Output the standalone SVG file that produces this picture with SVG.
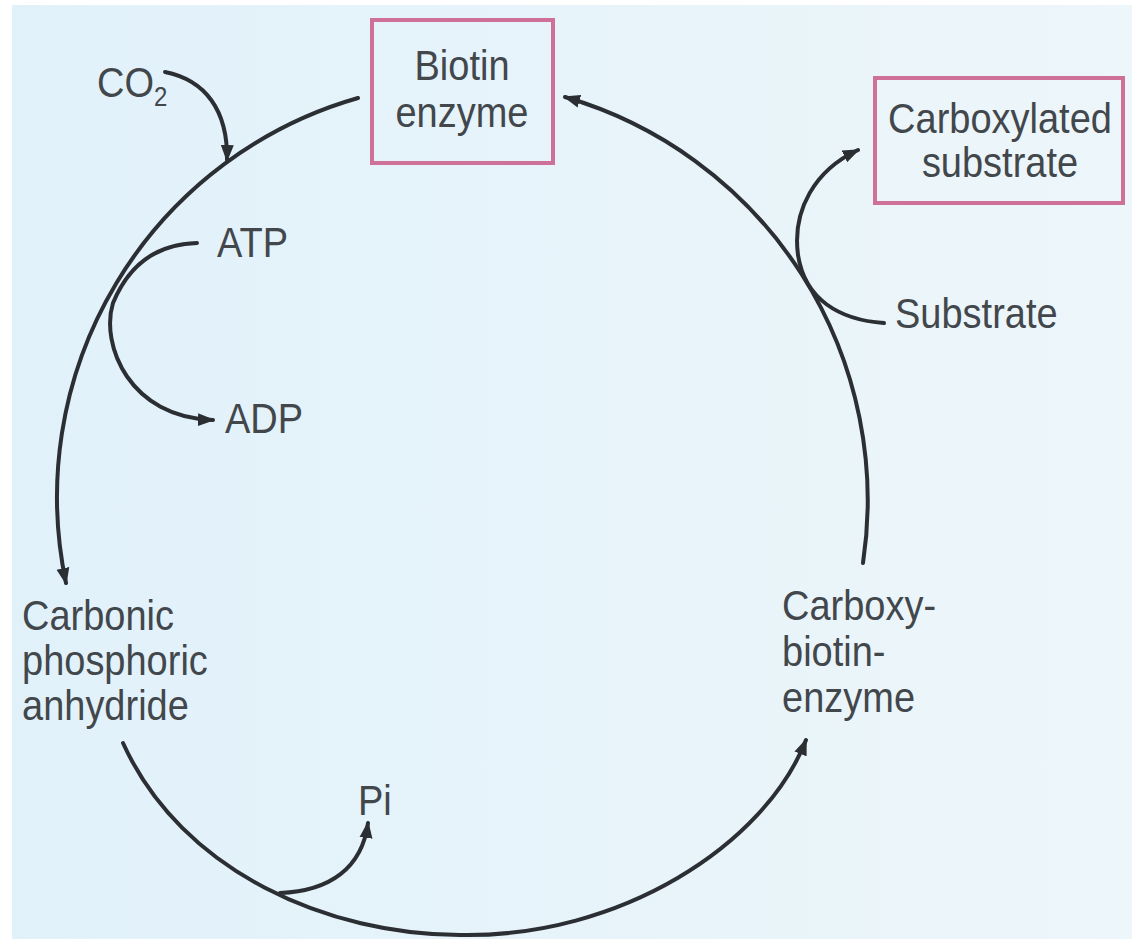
<svg xmlns="http://www.w3.org/2000/svg" width="1138" height="939" viewBox="0 0 1138 939">
<defs>
<linearGradient id="bg" x1="0" y1="0" x2="1" y2="0">
<stop offset="0" stop-color="#e1f1fa"/>
<stop offset="1" stop-color="#edf6fa"/>
</linearGradient>
<marker id="ah" markerUnits="userSpaceOnUse" markerWidth="18" markerHeight="14" refX="15" refY="7" orient="auto">
<path d="M0,0.5 L17,7 L0,13.5 z" fill="#2b2f33"/>
</marker>
<style>
.t{font-family:"Liberation Sans",Arial,sans-serif;font-size:38px;fill:#42474c}
.c{text-anchor:middle}
.box{fill:none;stroke:#cf7099;stroke-width:4}
.ln{fill:none;stroke:#2b2f33;stroke-width:4;stroke-linecap:round}
</style>
</defs>
<rect x="0" y="0" width="1138" height="939" fill="#ffffff"/>
<rect x="12" y="5" width="1120" height="934" fill="url(#bg)"/>
<g id="connectors">
<path class="ln" d="M358,98 A415 415 0 0 0 66,583" marker-end="url(#ah)"/>
<path class="ln" d="M123,743 C182,873 330,935 460,935 C620,938 765,845 806,740" marker-end="url(#ah)"/>
<path class="ln" d="M863,563 A420 420 0 0 0 565,97" marker-end="url(#ah)"/>
<path class="ln" d="M165,72 C205,80 228,110 227,160" marker-end="url(#ah)"/>
<path class="ln" d="M197,243 C160,244 130,262 113,303 C100,345 130,418 213,420" marker-end="url(#ah)"/>
<path class="ln" d="M280,893 C330,891 362,868 368,823" marker-end="url(#ah)"/>
<path class="ln" d="M884,323 C840,320 805,300 798,255 C792,210 815,170 858,150" marker-end="url(#ah)"/>
</g>
<g id="biotin-enzyme">
<rect class="box" x="372" y="20" width="181" height="143"/>
<text class="t c" transform="translate(462,80) scale(1,1.12)">Biotin</text>
<text class="t c" transform="translate(462,127) scale(1,1.12)">enzyme</text>
</g>
<g id="carboxylated-substrate">
<rect class="box" x="875" y="78" width="248" height="125"/>
<text class="t c" transform="translate(1000,133) scale(1,1.12)">Carboxylated</text>
<text class="t c" transform="translate(1000,177) scale(1,1.12)">substrate</text>
</g>
<g id="co2">
<text class="t" transform="translate(97,97) scale(1,1.12)">CO<tspan font-size="24" dy="8">2</tspan></text>
</g>
<g id="atp"><text class="t" transform="translate(217,257) scale(1,1.12)">ATP</text></g>
<g id="adp"><text class="t" transform="translate(225,433) scale(1,1.12)">ADP</text></g>
<g id="substrate"><text class="t" transform="translate(895,328) scale(1,1.12)">Substrate</text></g>
<g id="pi"><text class="t" transform="translate(358,815) scale(1,1.12)">Pi</text></g>
<g id="carbonic-phosphoric-anhydride">
<text class="t" transform="translate(22,630) scale(1,1.12)">Carbonic</text>
<text class="t" transform="translate(22,675) scale(1,1.12)">phosphoric</text>
<text class="t" transform="translate(22,720) scale(1,1.12)">anhydride</text>
</g>
<g id="carboxy-biotin-enzyme">
<text class="t" transform="translate(782,620) scale(1,1.12)">Carboxy-</text>
<text class="t" transform="translate(782,666) scale(1,1.12)">biotin-</text>
<text class="t" transform="translate(782,712) scale(1,1.12)">enzyme</text>
</g>
</svg>
